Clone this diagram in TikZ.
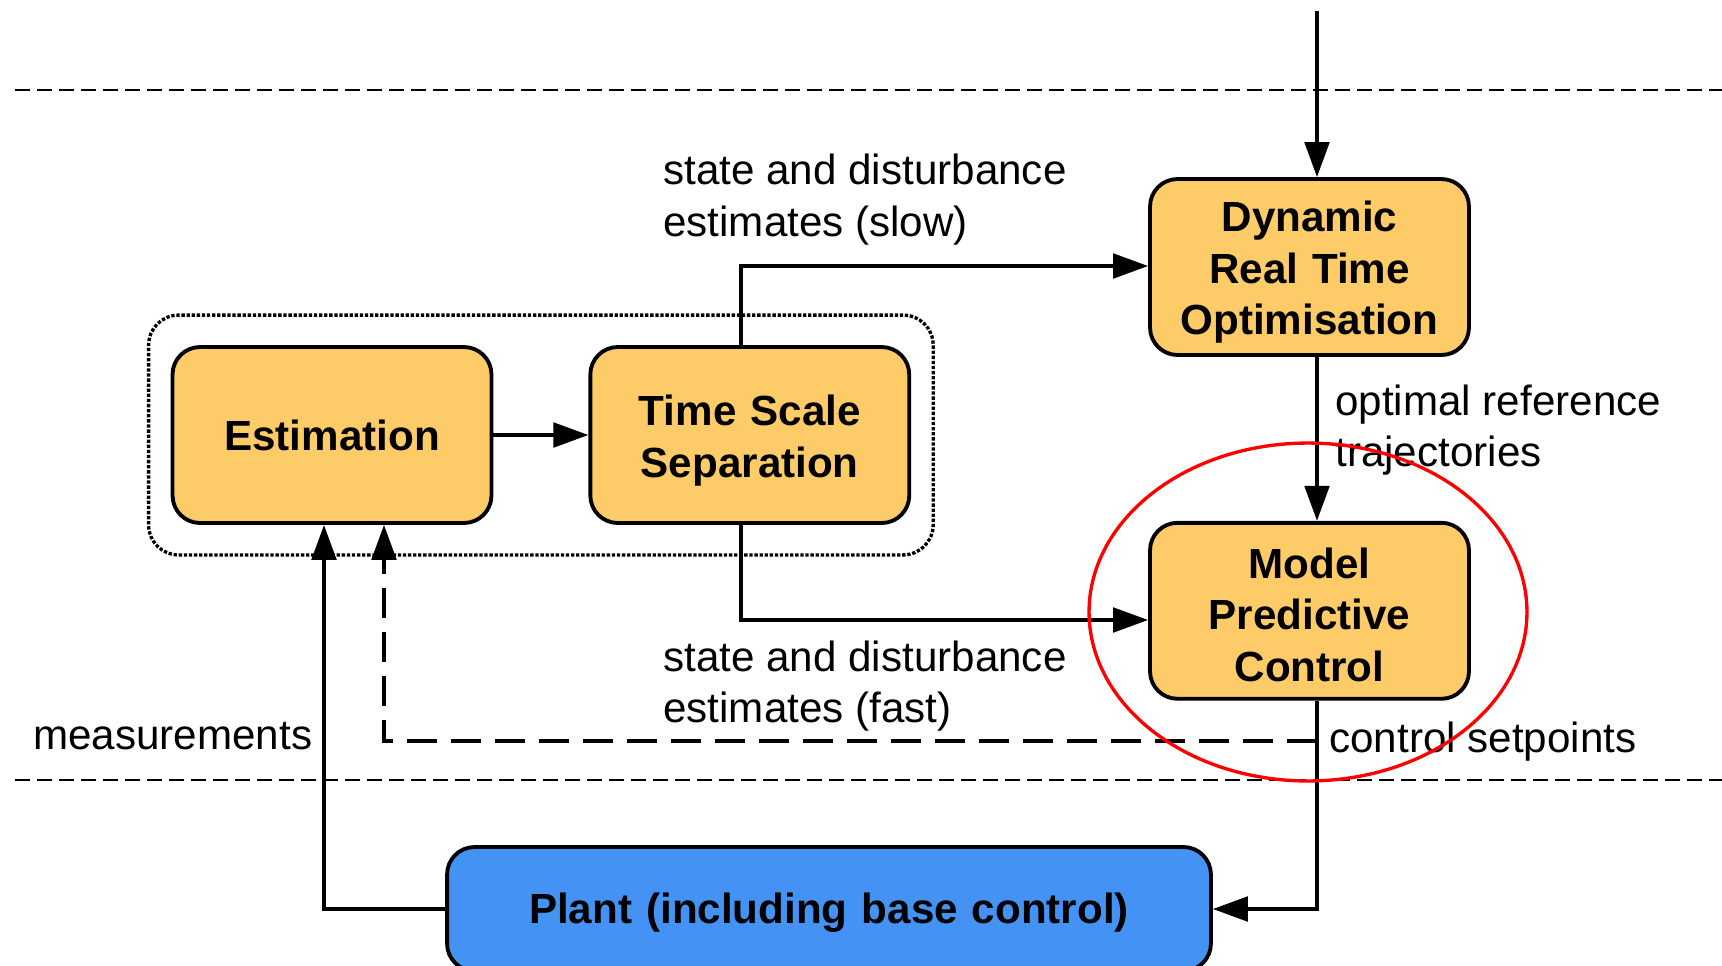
\documentclass[tikz,border=0pt]{standalone}
\usepackage{fontspec}
\setmainfont{Liberation Sans}
\usetikzlibrary{arrows.meta,positioning,fit}
\definecolor{boxorange}{HTML}{FECB69}
\definecolor{plantblue}{HTML}{4493F4}

\begin{document}
\begin{tikzpicture}[
      x=0.02cm, y=-0.02cm,
      node distance=1.9cm,
      every node/.style={font=\fontsize{24}{29.3}\selectfont},
      block/.style={rectangle, draw, line width=2.2pt, fill=boxorange, text width=6cm, align=center, rounded corners=0.55cm, minimum width=6.38cm, minimum height=3.52cm, inner sep=0pt, font=\fontsize{24}{29.3}\selectfont\bfseries},
      lower/.style={execute at begin node={\rule{0pt}{#1}}},
      signal/.style={align=left, inner sep=0pt, anchor=west},
      line/.style={draw, line width=2.1pt, -{Triangle[length=0.7cm, width=0.49cm]}},
      fbdash/.style={dash pattern=on 0.6cm off 0.28cm},
      level/.style={draw, line width=0.9pt, dash pattern=on 0.3cm off 0.14cm}
    ]
    \useasboundingbox (0,0) rectangle (1722,965);
    % Levels
    \path [level] (15,90) -- (1722,90);
    \path [level] (15,780) -- (1722,780);
    % Nodes
    \node [block] (est) at (332,435) {Estimation};
    \node [block, lower=23.5pt, right=of est] (tss) {Time Scale\\Separation};
    \node [draw, line width=1.9pt, dash pattern=on 1.9pt off 1pt, rounded corners=0.6cm, inner xsep=0.44cm, inner ysep=0.6cm, fit=(est)(tss)] (group) {};
    \node [block, lower=23.5pt] (drto) at (1309.5,267) {Dynamic\\Real Time\\Optimisation};
    \node [block, lower=22pt, below=3.28cm of drto] (mpc) {Model\\Predictive\\Control};
    \node [block, lower=21.5pt, fill=plantblue, text width=15cm, minimum width=15.28cm, minimum height=2.48cm] (plant) at (829,909) {Plant (including base control)};
    % Labels
    \node [signal] (slowtxt) at (663,199.5) {state and disturbance\\estimates (slow)};
    \node [signal] (reftxt) at (1335,430) {optimal reference\\trajectories};
    \node [signal] (fasttxt) at (663,686) {state and disturbance\\estimates (fast)};
    \node [signal] (meastxt) at (33,736) {measurements};
    \node [signal] (sptxt) at (1329,742) {control setpoints};
    % Lines
    \coordinate (top) at (1317,11);
    \coordinate (slow) at (741,266);
    \coordinate (fast) at (741,620);
    \coordinate (meas) at (324,909);
    \coordinate (fb) at (384,741);
    \path [line] (top) -- (top |- drto.north);
    \path [line] (est) -- (tss);
    \path [line] (tss.north -| slow) -- (slow) -- (drto.west |- slow);
    \path [line] (tss.south -| fast) -- (fast) -- (mpc.west |- fast);
    \path [line] (drto.south -| top) -- (mpc.north -| top);
    \path [line] (mpc.south -| top) |- (plant.east);
    \path [line] (plant.west) -| (est.south -| meas);
    \path [line, fbdash] (fb -| top) -- (fb) -- (est.south -| fb);
    % Highlight
    \draw [red, line width=1.9pt] (1308,612) ellipse [x radius=4.38cm, y radius=3.38cm];
  \end{tikzpicture}
\end{document}
